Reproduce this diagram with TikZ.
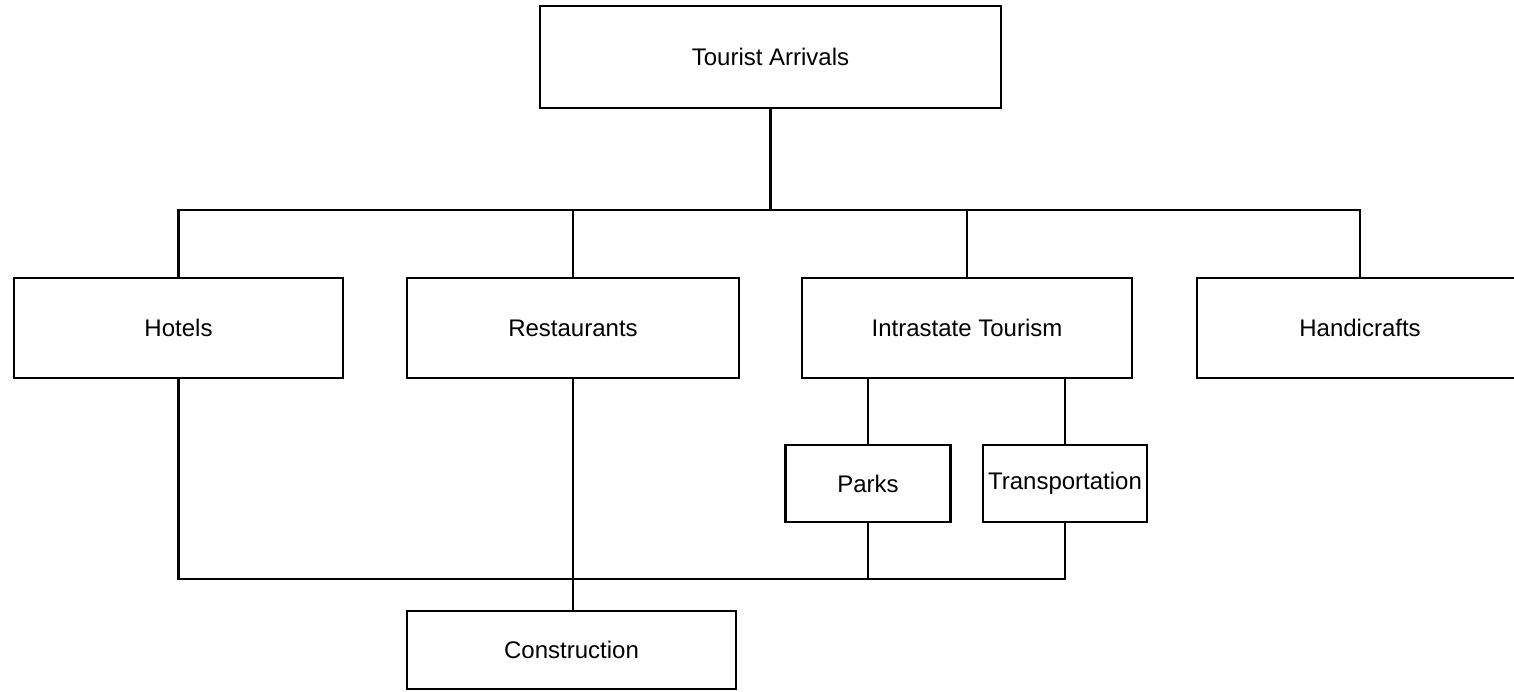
\documentclass[tikz,border=0pt]{standalone}
\usepackage{fontspec}
\setmainfont{Liberation Sans}
\begin{document}
\begin{tikzpicture}[x=0.5pt,y=-0.5pt,
  box/.style={draw=black, line width=1.4pt, fill=white, inner sep=0pt, font=\fontsize{12}{14}\selectfont},
  link/.style={draw=black, line width=1.4pt, line cap=rect}]
\clip (0,0) rectangle (1514,691);
\fill[white] (0,0) rectangle (1514,691);
% top
\node[box, minimum width=230.5pt, minimum height=51pt] (ta) at (770.5,57) {Tourist Arrivals};
% second row
\node[box, minimum width=164.5pt, minimum height=50pt] (hotels) at (178.5,328) {Hotels};
\node[box, minimum width=166pt, minimum height=50pt] (rest) at (573,328) {Restaurants};
\node[box, minimum width=165pt, minimum height=50pt] (intra) at (967,328) {Intrastate Tourism};
\node[box, minimum width=163pt, minimum height=50pt] (handi) at (1360,328) {Handicrafts};
% third row
\node[box, minimum width=82.5pt, minimum height=38.5pt] (parks) at (868,483.5) {Parks};
\node[box, minimum width=82pt, minimum height=38.5pt] (trans) at (1065,483.5) {Transportation};
% bottom
\node[box, minimum width=164.5pt, minimum height=39pt] (cons) at (571.5,650) {Construction};
% connectors
\coordinate (b1) at (178.5,210);
\coordinate (b4) at (1360,210);
\draw[link] (ta.south) -- (ta.south |- b1);
\draw[link] (hotels.north) -- (b1) -- (b4) -- (handi.north);
\draw[link] (rest.north) -- (rest.north |- b1);
\draw[link] (intra.north) -- (intra.north |- b1);
\draw[link] (parks.north |- intra.south) -- (parks.north);
\draw[link] (trans.north |- intra.south) -- (trans.north);
\coordinate (l1) at (178.5,579);
\coordinate (l2) at (1065,579);
\draw[link] (hotels.south) -- (l1) -- (l2) -- (trans.south);
\draw[link] (parks.south) -- (parks.south |- l1);
\draw[link] (rest.south) -- (rest.south |- cons.north);
\end{tikzpicture}
\end{document}
